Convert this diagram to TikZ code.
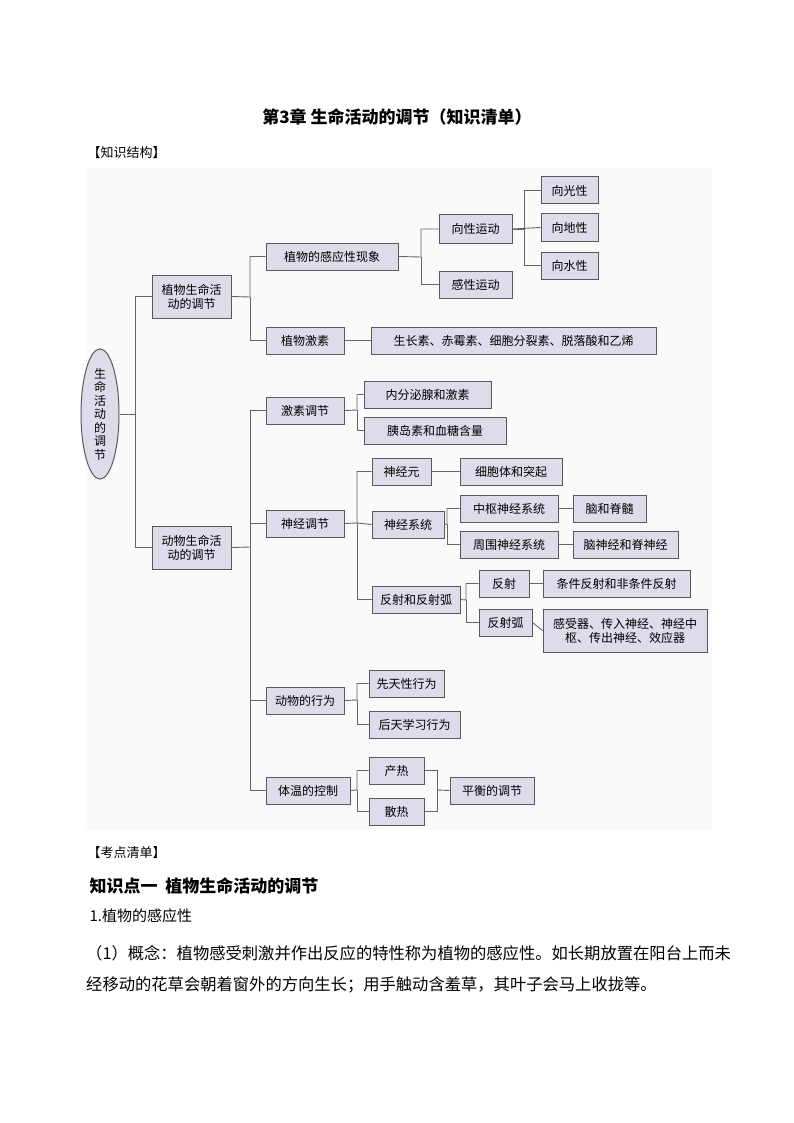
\documentclass[tikz,border=0pt]{standalone}
\usepackage{fontspec}
\setmainfont{Noto Sans CJK SC}
\usetikzlibrary{shapes.geometric}
\newcommand\mybox[6]{\pgfmathsetmacro\ww{#4-#2}\pgfmathsetmacro\hh{#5-#3}%
\node[bx,minimum width=\ww pt,minimum height=\hh pt] (#1) at ({(#2+#4)/2},{(#3+#5)/2}) {#6};}
\begin{document}
\begin{tikzpicture}[x=1pt,y=-1pt,
 bx/.style={draw=black!65,fill=lavbox,line width=1pt,inner sep=0pt,font=\fontsize{12}{14}\selectfont,align=center},
 cn/.style={draw=black!60,line width=0.9pt}]
\definecolor{lavbox}{HTML}{DCDCEA}
\useasboundingbox (0,0) rectangle (794,1123);
\fill[black!2] (85,168) rectangle (712,830);
\node[font=\bfseries\fontsize{17}{20}\selectfont] (title) at (397,117) {第3章 生命活动的调节（知识清单）};
\node[anchor=west,font=\fontsize{13}{15}\selectfont] (h1) at (84,153) {【知识结构】};
\node[draw=black!65,fill=lavbox,line width=1pt,ellipse,minimum width=38pt,minimum height=110pt,inner sep=0pt,align=center,font=\fontsize{12}{13.5}\selectfont] (root) at (100,414) {生\\命\\活\\动\\的\\调\\节};
\mybox{pl}{152}{275}{231}{318}{植物生命活\\动的调节}
\mybox{an}{152}{526}{231}{569}{动物生命活\\动的调节}
\mybox{gy}{266}{243}{398}{270}{植物的感应性现象}
\mybox{js}{266}{327}{344}{354}{植物激素}
\mybox{xx}{439}{215}{512}{243}{向性运动}
\mybox{gx}{439}{271}{512}{298}{感性运动}
\mybox{xg}{541}{177}{598}{204}{向光性}
\mybox{xd}{541}{214}{598}{241}{向地性}
\mybox{xs}{541}{252}{598}{279}{向水性}
\mybox{szs}{371}{327}{656}{354}{生长素、赤霉素、细胞分裂素、脱落酸和乙烯}
\mybox{jt}{266}{397}{344}{424}{激素调节}
\mybox{nf}{364}{381}{491}{408}{内分泌腺和激素}
\mybox{yd}{364}{417}{506}{444}{胰岛素和血糖含量}
\mybox{sj}{266}{510}{344}{537}{神经调节}
\mybox{sy}{372}{458}{431}{485}{神经元}
\mybox{xb}{460}{458}{562}{485}{细胞体和突起}
\mybox{xt}{372}{511}{444}{538}{神经系统}
\mybox{zs}{460}{495}{558}{522}{中枢神经系统}
\mybox{nj}{573}{495}{646}{522}{脑和脊髓}
\mybox{zw}{460}{531}{558}{558}{周围神经系统}
\mybox{nsj}{573}{531}{678}{558}{脑神经和脊神经}
\mybox{fh}{372}{586}{460}{613}{反射和反射弧}
\mybox{fs}{479}{570}{529}{597}{反射}
\mybox{tj}{543}{570}{690}{597}{条件反射和非条件反射}
\mybox{fhh}{479}{609}{532}{636}{反射弧}
\mybox{gsq}{543}{609}{707}{652}{感受器、传入神经、神经中\\枢、传出神经、效应器}
\mybox{xw}{266}{687}{344}{714}{动物的行为}
\mybox{xt1}{369}{670}{444}{697}{先天性行为}
\mybox{ht}{369}{711}{460}{738}{后天学习行为}
\mybox{tw}{266}{777}{350}{804}{体温的控制}
\mybox{cr}{369}{757}{424}{784}{产热}
\mybox{sr}{369}{798}{424}{825}{散热}
\mybox{ph}{450}{777}{534}{804}{平衡的调节}
% connectors
\draw[cn] (root.east) -- (135,414) |- (pl.west);
\draw[cn] (135,414) |- (an.west);
\draw[cn] (pl.east) -- (250,297) |- (gy.west);
\draw[cn] (250,297) |- (js.west);
\draw[cn] (gy.east) -- (421,257) |- (xx.west);
\draw[cn] (421,257) |- (gx.west);
\draw[cn] (xx.east) -- (524,229) |- (xg.west);
\draw[cn] (524,229) |- (xs.west);
\draw[cn] (xx.east) -- (xd.west);
\draw[cn] (js.east) -- (szs.west);
\draw[cn] (an.east) -- (250,547);
\draw[cn] (250,547) |- (jt.west);
\draw[cn] (250,547) |- (sj.west);
\draw[cn] (250,547) |- (xw.west);
\draw[cn] (250,547) |- (tw.west);
\draw[cn] (jt.east) -- (357,410) |- (nf.west);
\draw[cn] (357,410) |- (yd.west);
\draw[cn] (sj.east) -- (357,523) |- (sy.west);
\draw[cn] (357,523) |- (fh.west);
\draw[cn] (357,523) -- (xt.west);
\draw[cn] (sy.east) -- (xb.west);
\draw[cn] (xt.east) -- (447,524) |- (zs.west);
\draw[cn] (447,524) |- (zw.west);
\draw[cn] (zs.east) -- (nj.west);
\draw[cn] (zw.east) -- (nsj.west);
\draw[cn] (fh.east) -- (466,600) |- (fs.west);
\draw[cn] (466,600) |- (fhh.west);
\draw[cn] (fs.east) -- (tj.west);
\draw[cn] (fhh.east) -- (gsq.west);
\draw[cn] (xw.east) -- (357,700) |- (xt1.west);
\draw[cn] (357,700) |- (ht.west);
\draw[cn] (tw.east) -- (357,790) |- (cr.west);
\draw[cn] (357,790) |- (sr.west);
\draw[cn] (cr.east) -| (437,790);
\draw[cn] (sr.east) -| (437,790);
\draw[cn] (437,790) -- (ph.west);
% text below
\node[anchor=west,font=\fontsize{13}{15}\selectfont] (h2) at (84,853) {【考点清单】};
\node[anchor=west,font=\bfseries\fontsize{17}{20}\selectfont] (k1) at (86,886) {知识点一\ \ 植物生命活动的调节};
\node[anchor=west,font=\fontsize{15}{18}\selectfont] (p1) at (86,916) {1.植物的感应性};
\node[anchor=west,font=\fontsize{16.3}{20}\selectfont,inner sep=0pt] (p2) at (86,953) {（1）概念：植物感受刺激并作出反应的特性称为植物的感应性。如长期放置在阳台上而未};
\node[anchor=west,font=\fontsize{16.3}{20}\selectfont,inner sep=0pt] (p3) at (86,985) {经移动的花草会朝着窗外的方向生长；用手触动含羞草，其叶子会马上收拢等。};
\end{tikzpicture}
\end{document}
